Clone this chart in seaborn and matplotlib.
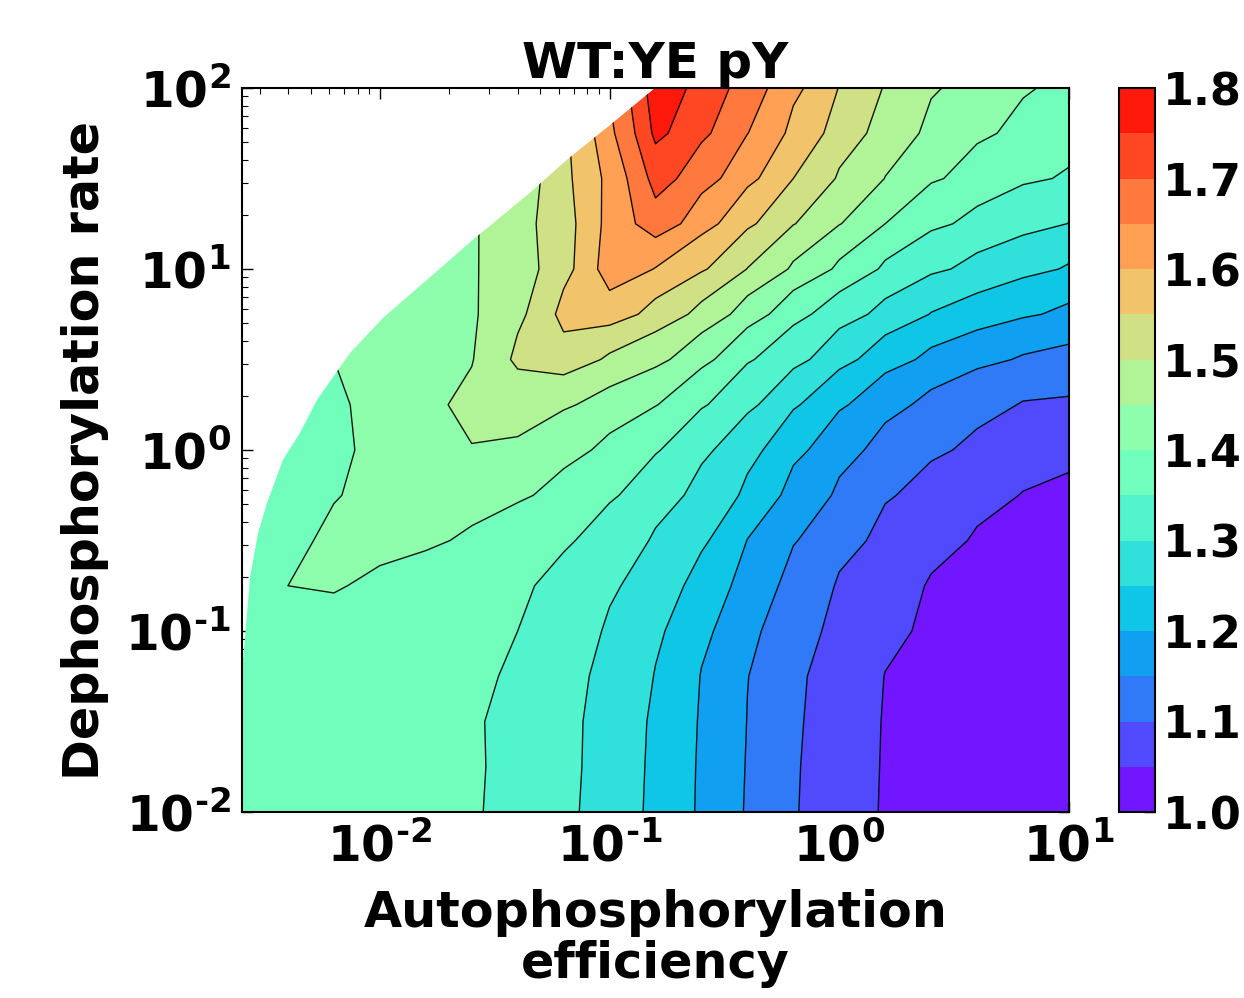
import numpy as np
import matplotlib
matplotlib.use("Agg")
import matplotlib.pyplot as plt
import matplotlib.patches as mpatches
from matplotlib.ticker import FuncFormatter, NullFormatter, LogLocator
import seaborn as sns

# ---------------- data ----------------
title = "WT:YE pY"
x_label = "Autophosphorylation\nefficiency"
y_label = "Dephosphorylation rate"

# grid positions (log10 of the axis values)
log_autophos = [-2.6, -2.4, -2.2, -2.0, -1.8, -1.6, -1.4, -1.2, -1.0, -0.8,
                -0.6, -0.4, -0.2, 0.0, 0.2, 0.4, 0.6, 0.8, 1.0]
log_dephos = [2.0, 1.75, 1.5, 1.25, 1.0, 0.75, 0.5, 0.25, 0.0,
              -0.25, -0.5, -0.75, -1.0, -1.25, -1.5, -1.75, -2.0]

nan = np.nan
# pY ratio, rows follow log_dephos (top to bottom), columns follow log_autophos
pY_ratio = [
    [nan, nan, nan, nan, nan, nan, nan, 1.550, 1.655, 1.780, 1.732, 1.674, 1.612, 1.548, 1.496, 1.455, 1.429, 1.405, 1.385],
    [nan, nan, nan, nan, nan, nan, 1.450, 1.540, 1.639, 1.762, 1.710, 1.651, 1.586, 1.527, 1.477, 1.438, 1.408, 1.387, 1.370],
    [nan, nan, nan, nan, nan, 1.420, 1.470, 1.538, 1.616, 1.720, 1.671, 1.613, 1.550, 1.494, 1.449, 1.406, 1.380, 1.357, 1.345],
    [nan, nan, nan, nan, 1.400, 1.445, 1.484, 1.530, 1.619, 1.680, 1.619, 1.559, 1.502, 1.452, 1.400, 1.360, 1.336, 1.316, 1.299],
    [nan, nan, nan, 1.410, 1.430, 1.446, 1.478, 1.532, 1.630, 1.598, 1.556, 1.499, 1.442, 1.390, 1.341, 1.309, 1.285, 1.264, 1.245],
    [nan, nan, 1.400, 1.415, 1.431, 1.445, 1.488, 1.567, 1.575, 1.531, 1.484, 1.425, 1.365, 1.321, 1.284, 1.248, 1.227, 1.206, 1.189],
    [nan, 1.390, 1.400, 1.417, 1.432, 1.448, 1.512, 1.530, 1.491, 1.463, 1.414, 1.355, 1.315, 1.266, 1.220, 1.187, 1.162, 1.145, 1.135],
    [nan, 1.385, 1.393, 1.416, 1.444, 1.458, 1.466, 1.456, 1.430, 1.402, 1.355, 1.311, 1.256, 1.207, 1.165, 1.136, 1.115, 1.097, 1.094],
    [1.380, 1.385, 1.388, 1.418, 1.446, 1.449, 1.445, 1.416, 1.387, 1.354, 1.310, 1.265, 1.213, 1.166, 1.133, 1.107, 1.090, 1.077, 1.063],
    [1.380, 1.385, 1.397, 1.418, 1.428, 1.425, 1.407, 1.383, 1.356, 1.321, 1.284, 1.240, 1.181, 1.142, 1.104, 1.084, 1.065, 1.048, 1.040],
    [1.375, 1.390, 1.410, 1.415, 1.408, 1.391, 1.373, 1.356, 1.328, 1.294, 1.258, 1.199, 1.153, 1.115, 1.087, 1.065, 1.045, 1.035, 1.025],
    [1.380, 1.400, 1.403, 1.391, 1.379, 1.368, 1.356, 1.337, 1.307, 1.273, 1.232, 1.178, 1.133, 1.095, 1.069, 1.046, 1.035, 1.025, 1.018],
    [1.385, 1.390, 1.388, 1.382, 1.375, 1.366, 1.350, 1.323, 1.294, 1.258, 1.211, 1.161, 1.118, 1.086, 1.061, 1.040, 1.030, 1.020, 1.014],
    [1.385, 1.385, 1.383, 1.378, 1.370, 1.360, 1.341, 1.315, 1.285, 1.248, 1.198, 1.151, 1.108, 1.077, 1.049, 1.035, 1.025, 1.017, 1.012],
    [1.385, 1.384, 1.382, 1.377, 1.368, 1.355, 1.334, 1.311, 1.281, 1.241, 1.195, 1.149, 1.106, 1.074, 1.047, 1.033, 1.022, 1.014, 1.009],
    [1.386, 1.385, 1.383, 1.377, 1.368, 1.356, 1.333, 1.311, 1.279, 1.239, 1.193, 1.147, 1.104, 1.073, 1.046, 1.031, 1.020, 1.012, 1.007],
    [1.386, 1.385, 1.383, 1.377, 1.368, 1.355, 1.331, 1.309, 1.278, 1.237, 1.192, 1.145, 1.103, 1.072, 1.045, 1.030, 1.019, 1.011, 1.005],
]

# edge of the sampled region (outside it the chart is blank)
boundary_log_autophos = [-2.600, -2.565, -2.530, -2.491, -2.422, -2.348, -2.274, -2.130,
                         -1.987, -1.796, -1.596, -1.348, -1.187, -0.987, -0.813, -0.804]
boundary_log_dephos = [-1.232, -0.702, -0.459, -0.293, -0.055, 0.094, 0.276, 0.536,
                       0.729, 0.939, 1.160, 1.420, 1.602, 1.807, 1.989, 2.000]

levels = [1.00, 1.05, 1.10, 1.15, 1.20, 1.25, 1.30, 1.35, 1.40,
          1.45, 1.50, 1.55, 1.60, 1.65, 1.70, 1.75, 1.80]
cbar_ticks = [1.0, 1.1, 1.2, 1.3, 1.4, 1.5, 1.6, 1.7, 1.8]
x_limits = (10 ** -2.6, 10.0)
y_limits = (0.01, 100.0)

# ---------------- style ----------------
sns.set_theme(style="white")
plt.rcParams["font.family"] = ["DejaVu Sans"]
plt.rcParams["font.weight"] = "bold"
plt.rcParams["axes.labelweight"] = "bold"
plt.rcParams["axes.titleweight"] = "bold"
plt.rcParams["mathtext.fontset"] = "dejavusans"
for key in ("text.color", "axes.labelcolor", "xtick.color", "ytick.color", "axes.edgecolor"):
    plt.rcParams[key] = "black"
cmap = sns.color_palette("rainbow", as_cmap=True)

W, H = 1244, 998
fig = plt.figure(figsize=(W / 100, H / 100), dpi=100)
ax = fig.add_axes([242 / W, 1 - 812 / H, (1069 - 242) / W, (812 - 88) / H])
cax = fig.add_axes([1119 / W, 1 - 812 / H, 36 / W, (812 - 88) / H])

X = 10 ** np.array(log_autophos)
Y = 10 ** np.array(log_dephos)[::-1]
Z = np.ma.masked_invalid(np.array(pY_ratio)[::-1])

cf = ax.contourf(X, Y, Z, levels=levels, cmap=cmap)
cl = ax.contour(X, Y, Z, levels=levels[1:-1], colors="black", linewidths=1.0, alpha=0.9)

ax.set_xscale("log")
ax.set_yscale("log")
ax.set_xlim(*x_limits)
ax.set_ylim(*y_limits)

# clip the filled field to the sampled region
bx = list(10 ** np.array(boundary_log_autophos))
by = list(10 ** np.array(boundary_log_dephos))
verts = [(x_limits[0], y_limits[0])] + list(zip(bx, by)) + [(x_limits[1], y_limits[1]), (x_limits[1], y_limits[0])]
clip = mpatches.Polygon(verts, closed=True, transform=ax.transData)
cf.set_clip_path(clip)
cl.set_clip_path(clip)

def log_fmt(v, pos):
    e = int(round(np.log10(v)))
    exp = ("\u2010%d" % -e) if e < 0 else ("%d" % e)
    return r"$\mathbf{10^{%s}}$" % exp

for axis in (ax.xaxis, ax.yaxis):
    axis.set_major_locator(LogLocator(base=10, numticks=10))
    axis.set_minor_locator(LogLocator(base=10, subs=np.arange(2, 10), numticks=20))
    axis.set_major_formatter(FuncFormatter(log_fmt))
    axis.set_minor_formatter(NullFormatter())

ax.tick_params(which="both", direction="in", top=True, right=True, bottom=True, left=True,
               color="black")
ax.tick_params(which="major", length=8, width=1.0, labelsize=35, pad=8)
ax.tick_params(which="minor", length=4, width=0.8)
for sp in ax.spines.values():
    sp.set_color("black")
    sp.set_linewidth(1.5)

ax.set_xlabel(x_label, fontsize=35.5, fontweight="bold", labelpad=12, linespacing=1.1)
ax.set_ylabel(y_label, fontsize=35.5, fontweight="bold", labelpad=12)
ax.set_title(title, fontsize=36, fontweight="bold", pad=4)

cb = fig.colorbar(cf, cax=cax, ticks=cbar_ticks)
cb.ax.tick_params(direction="in", length=8, width=1.0, labelsize=32, pad=6, right=True, color="black")
cb.ax.set_yticklabels([f"{t:.1f}" for t in cbar_ticks], fontweight="bold")
cb.outline.set_edgecolor("black")
cb.outline.set_linewidth(1.5)

fig.savefig("out.png", dpi=100, facecolor="white")
